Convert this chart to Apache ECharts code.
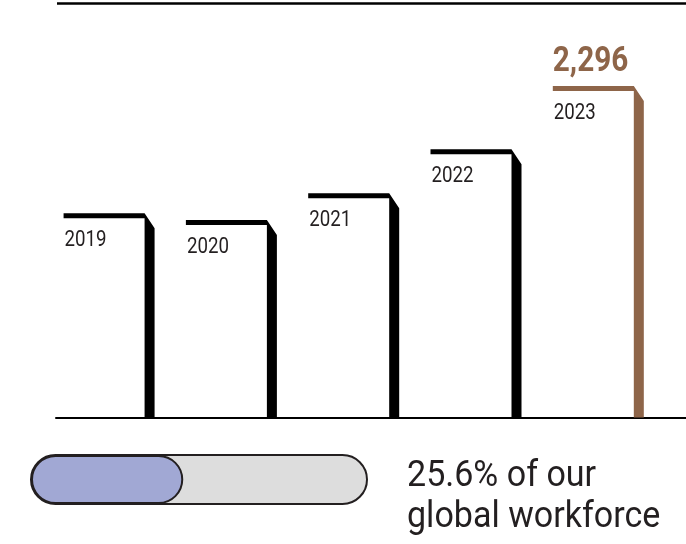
<!DOCTYPE html>
<html>
<head>
<meta charset="utf-8">
<title>Employees 2019–2023</title>
<script src="https://cdn.jsdelivr.net/npm/echarts@6/dist/echarts.min.js"></script>
<style>
  html, body { margin: 0; padding: 0; background: #ffffff; }
  #chart { width: 686px; height: 544px; }
</style>
</head>
<body>
<div id="chart"></div>
<script>
// Headcount by year
const years = ['2019', '2020', '2021', '2022', '2023'];
const employees = [1414, 1368, 1553, 1858, 2296];
const highlightYear = '2023';

// Share of the global workforce
const workforceShare = 25.6;
const captionLines = ['of our', 'global workforce'];

// Roboto squeezed horizontally stands in for a condensed face
const FONT = "Roboto, 'Liberation Sans', sans-serif";
const INK = '#231f20';
const BROWN = '#8e6549';

const chart = echarts.init(document.getElementById('chart'), null, { renderer: 'canvas' });

// Each year is an inverted "L": a thin cap whose right end is bevelled into a thick stem.
function renderStep(params, api) {
  const i = api.value(0);
  const v = api.value(1);
  const top = api.coord([i, v]);
  const base = api.coord([i, 0]);
  const half = 45.5, stem = 10, cap = 5, bevel = 15;
  const left = top[0] - half;
  const right = top[0] + half;
  const y = top[1];
  const isHi = years[i] === highlightYear;
  const color = isHi ? BROWN : '#000000';
  const children = [
    {
      type: 'polygon',
      shape: {
        points: [
          [left, y], [right - stem, y], [right, y + bevel], [right, base[1]],
          [right - stem, base[1]], [right - stem, y + cap], [left, y + cap]
        ]
      },
      style: { fill: color }
    },
    {
      type: 'text',
      x: left + 1,
      y: y + 16,
      scaleX: 0.85,
      style: { text: years[i], font: '22px ' + FONT, fill: INK, align: 'left', verticalAlign: 'top' }
    }
  ];
  if (isHi) {
    children.push({
      type: 'text',
      x: left,
      y: y - 41,
      scaleX: 0.85,
      style: {
        text: v.toLocaleString('en-US'),
        font: 'bold 35px ' + FONT, fill: BROWN, align: 'left', verticalAlign: 'top'
      }
    });
  }
  return { type: 'group', children: children };
}

const option = {
  animation: false,
  backgroundColor: '#ffffff',
  grid: [
    { left: 56, right: 0, top: 56.6, bottom: 126.5 },
    { left: 31, width: 336, top: 455, height: 49 }
  ],
  xAxis: [
    {
      gridIndex: 0, type: 'value', min: -0.434, max: 4.717,
      axisLine: { show: true, onZero: false, lineStyle: { color: '#000000', width: 2 } },
      axisTick: { show: false }, axisLabel: { show: false }, splitLine: { show: false }
    },
    {
      gridIndex: 1, type: 'value', min: 0, max: 56.5,
      axisLine: { show: false }, axisTick: { show: false }, axisLabel: { show: false }, splitLine: { show: false }
    }
  ],
  yAxis: [
    {
      gridIndex: 0, type: 'value', min: 0, max: 2500,
      axisLine: { show: false }, axisTick: { show: false }, axisLabel: { show: false }, splitLine: { show: false }
    },
    {
      gridIndex: 1, type: 'category', data: ['share'],
      axisLine: { show: false }, axisTick: { show: false }, axisLabel: { show: false }, splitLine: { show: false }
    }
  ],
  graphic: [
    {
      type: 'line',
      shape: { x1: 57, y1: 3.5, x2: 686, y2: 3.5 },
      style: { stroke: '#000000', lineWidth: 2.5 }
    },
    {
      type: 'text',
      x: 407,
      y: 456,
      scaleX: 0.92,
      style: {
        text: workforceShare + '% ' + captionLines[0] + '\n' + captionLines[1],
        font: '37px ' + FONT, lineHeight: 41, fill: INK, align: 'left', verticalAlign: 'top'
      }
    }
  ],
  series: [
    {
      type: 'custom',
      xAxisIndex: 0, yAxisIndex: 0,
      renderItem: renderStep,
      clip: false,
      data: employees.map((v, i) => [i, v])
    },
    {
      type: 'bar',
      xAxisIndex: 1, yAxisIndex: 1,
      barWidth: 49,
      data: [workforceShare],
      itemStyle: { color: '#a1a8d4', borderColor: INK, borderWidth: 2, borderRadius: 24.5 },
      showBackground: true,
      backgroundStyle: { color: '#dddddd', borderColor: INK, borderWidth: 2, borderRadius: 24.5 }
    }
  ]
};

chart.setOption(option);
</script>
</body>
</html>
